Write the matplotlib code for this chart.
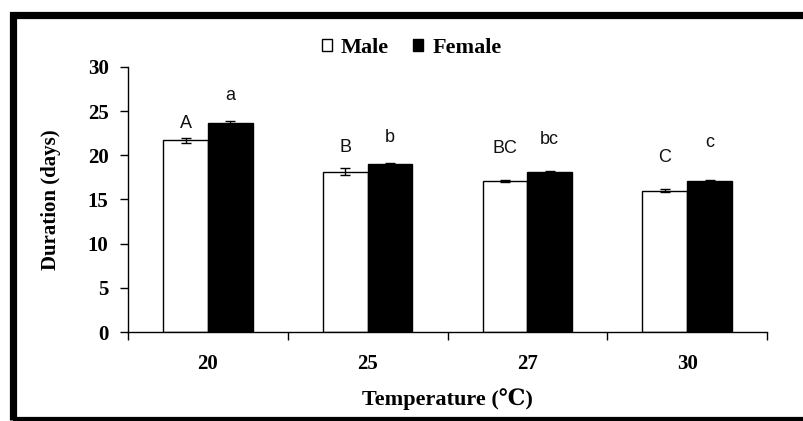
import numpy as np
import matplotlib
matplotlib.use("Agg")
import matplotlib.pyplot as plt
from matplotlib.patches import Patch, Rectangle


# --- data ---
temps = ['20', '25', '27', '30']
male = [21.7, 18.15, 17.1, 16.0]
female = [23.7, 19.0, 18.07, 17.1]
male_err = [0.25, 0.4, 0.1, 0.15]
female_err = [0.15, 0.1, 0.1, 0.1]

male_letters = ['A', 'B', 'BC', 'C']
female_letters = ['a', 'b', 'bc', 'c']
male_letter_y = [23.6, 20.9, 20.8, 19.8]
female_letter_y = [26.8, 22.0, 21.8, 21.4]

serif = ['Liberation Serif', 'DejaVu Serif']
sans = ['Liberation Sans', 'DejaVu Sans']

fig = plt.figure(figsize=(8.04, 4.21), dpi=100)
ax = fig.add_axes([0.1592, 0.2114, 0.7948, 0.6295])

x = np.arange(len(temps))
w = 0.28

ax.bar(x - w / 2, male, w, color='white', edgecolor='black', linewidth=1.0,
       yerr=male_err, error_kw=dict(ecolor='black', elinewidth=1.0, capsize=3.5, capthick=1.0))
ax.bar(x + w / 2, female, w, color='black', edgecolor='black', linewidth=1.0,
       yerr=female_err, error_kw=dict(ecolor='black', elinewidth=1.0, capsize=3.5, capthick=1.0))

for i in range(len(temps)):
    ax.text(x[i] - w / 2, male_letter_y[i], male_letters[i], ha='center', va='center',
            fontsize=13, family=sans, color='#111111')
    ax.text(x[i] + w / 2, female_letter_y[i], female_letters[i], ha='center', va='center',
            fontsize=13, family=sans, color='#111111')

ax.set_xlim(-0.5, len(temps) - 0.5)
ax.set_ylim(0, 30)
ax.set_yticks(np.arange(0, 31, 5))
ax.set_xticks(x)
ax.set_xticklabels(temps)
# category boundary ticks on the x axis
ax.set_xticks(np.arange(-0.5, len(temps), 1.0), minor=True)
ax.tick_params(axis='x', which='major', length=0, pad=16)
ax.tick_params(axis='x', which='minor', length=6, width=1, direction='out')
ax.tick_params(axis='y', length=6, width=1, direction='out', pad=8)

for lab in ax.get_xticklabels() + ax.get_yticklabels():
    lab.set_family(serif)
    lab.set_fontweight('bold')
    lab.set_fontsize(15)

ax.spines['top'].set_visible(False)
ax.spines['right'].set_visible(False)
ax.spines['left'].set_linewidth(1)
ax.spines['bottom'].set_linewidth(1)

ax.set_ylabel('Duration (days)', family=serif, fontweight='bold', fontsize=15, labelpad=19)
ax.set_xlabel('Temperature (\u2103)', family=serif, fontweight='bold', fontsize=16, labelpad=10)

handles = [Patch(facecolor='white', edgecolor='black', linewidth=1),
           Patch(facecolor='black', edgecolor='black', linewidth=1)]
fig.legend(handles, ['Male', 'Female'], loc='center', bbox_to_anchor=(0.512, 0.886), ncol=2,
           frameon=False, handlelength=0.45, handleheight=0.45, handletextpad=0.4,
           columnspacing=1.1, prop=dict(family=serif, weight='bold', size=16))

# thick frame around the chart, right side runs off the picture
fig.patches.append(Rectangle((13 / 804, 1 / 421), 1.2, 405 / 421, transform=fig.transFigure,
                             fill=False, edgecolor='black', linewidth=5.2))

fig.savefig('out.png', dpi=100)
